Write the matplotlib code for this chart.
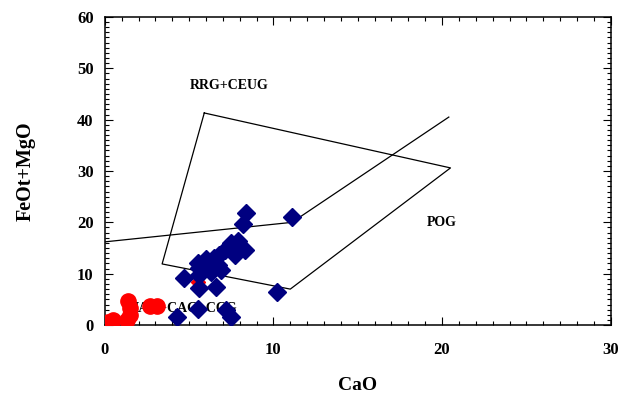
"""
CaO vs FeOt+MgO discrimination diagram (RRG+CEUG / POG / IAG+CAG+CCG fields).
"""

import matplotlib.pyplot as plt
from matplotlib.ticker import MultipleLocator

# sample compositions (wt%)
blue_cao = [11.1, 8.4, 8.2, 10.2, 4.7, 5.6, 6.6, 4.3, 5.5, 7.2, 7.5,
            7.5, 8.0, 8.3, 7.1, 6.8, 6.5, 6.2, 5.9, 5.6, 5.5, 6.7, 6.9,
            6.3, 5.6, 7.7, 7.9, 6.0]
blue_feomgo = [21.0, 21.8, 19.6, 6.5, 9.2, 7.2, 7.4, 1.5, 3.1, 3.0, 1.6,
               16.0, 15.2, 14.6, 14.6, 13.6, 13.1, 12.3, 11.7, 11.1, 12.1,
               11.7, 10.7, 10.3, 9.7, 13.6, 16.3, 12.8]

red_cao = [0.5, 0.2, 1.4, 1.5, 1.5, 1.3, 2.7, 3.1]
red_feomgo = [1.0, 0.6, 4.6, 3.4, 2.0, 1.0, 3.7, 3.7]

red_diamond_cao = [5.5]
red_diamond_feomgo = [8.4]

# field boundaries
line_cao = [0.0, 11.1, 20.4]
line_feomgo = [16.2, 20.0, 40.5]

box_cao = [5.9, 20.5, 11.0, 3.4, 5.9]
box_feomgo = [41.3, 30.6, 7.0, 11.9, 41.3]

plt.rcParams["font.family"] = "Liberation Serif"
plt.rcParams["font.weight"] = "bold"

fig = plt.figure(figsize=(6.2, 3.94), dpi=100)
ax = fig.add_axes([0.169, 0.175, 0.816, 0.782])

ax.plot(line_cao, line_feomgo, color="black", linewidth=0.9, zorder=1)
ax.plot(box_cao, box_feomgo, color="black", linewidth=0.9, zorder=1)

ax.text(7.35, 46.6, "RRG+CEUG", ha="center", va="center", fontsize=10, zorder=1)
ax.text(20.0, 19.9, "POG", ha="center", va="center", fontsize=10, zorder=1)
ax.text(4.8, 3.3, "IAG+CAG+CCG", ha="center", va="center", fontsize=10, zorder=1)

ax.plot(red_diamond_cao, red_diamond_feomgo, linestyle="none", marker="D",
        markersize=7, color="red", zorder=2)
ax.plot(blue_cao, blue_feomgo, linestyle="none", marker="D", markersize=9.5,
        color="#000080", zorder=3)
ax.plot(red_cao, red_feomgo, linestyle="none", marker="o", markersize=11,
        color="red", zorder=4)

ax.set_xlim(0, 30)
ax.set_ylim(0, 60)
ax.xaxis.set_major_locator(MultipleLocator(10))
ax.xaxis.set_minor_locator(MultipleLocator(1))
ax.yaxis.set_major_locator(MultipleLocator(10))
ax.yaxis.set_minor_locator(MultipleLocator(1))
ax.tick_params(which="both", direction="in", top=True, right=True,
               labelsize=12, width=0.8)
ax.tick_params(which="major", length=6)
ax.tick_params(which="minor", length=3)
ax.tick_params(axis="x", pad=12)
ax.tick_params(axis="y", pad=8)
for spine in ax.spines.values():
    spine.set_linewidth(1.1)

ax.set_xlabel("CaO", fontsize=14, fontweight="bold", labelpad=14)
ax.set_ylabel("FeOt+MgO", fontsize=14.5, fontweight="bold", labelpad=30)

fig.savefig("out.png", dpi=100)
